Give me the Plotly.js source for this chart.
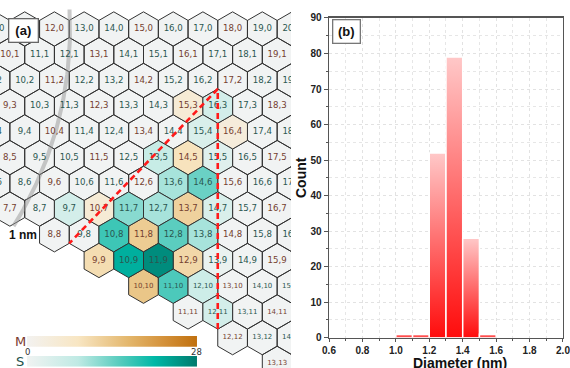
<!DOCTYPE html>
<html><head><meta charset="utf-8">
<script src="https://cdn.plot.ly/plotly-3.0.1.min.js"></script>
<style>html,body{margin:0;padding:0;background:#fff}#chart{width:570px;height:368px}</style>
</head><body><div id="chart"></div>
<script>
// ---------- Panel (a): chirality map data ----------
const rowsM = [0,1,2,3,4,5,6,7,8,9,10,11,12,13];   // chiral index m of each row
const nLimit = 21;                                   // largest n drawn
// metallic (n-m divisible by 3) chiralities and their counts
const metN     = [15,16,14,10,13,11,9,12,10];
const metM     = [3, 4, 5, 7, 7, 8, 9, 9, 10];
const metCount = [5, 4, 9, 5, 12,13,10,11,14];
// semiconducting chiralities and their counts
const semN     = [16,15,13,15,13,14,9,11,12,14,10,12,13,10,11,13,11,12,12];
const semM     = [3, 4, 5, 5, 6, 6, 7, 7, 7, 7, 8, 8, 8, 9, 9, 9, 10,10,11];
const semCount = [5, 4, 7, 3, 10,14,5, 12,10,4, 17,15,10,22,26,1, 16,6, 5];
const countMin = 0, countMax = 28;
// guide lines (red dashed): hex (n,m) and vertex index (0 top,3 bottom,4 lower-left)
const guideN = [12,16,9];
const guideM = [11,3,8];
const guideV = [3,0,4];
// 1 nm diameter contour
const contourDiameter = 1.0;   // nm
const latticeConst = 0.2508;   // nm

// ---------- Panel (b): histogram data ----------
const binStart = [1.0,1.1,1.2,1.3,1.4,1.5];
const binCount = [1,1,52,79,28,1];
const binWidth = 0.1;

// ---------- styles ----------
const scaleM = [[0,'#f3f2f0'],[0.3,'#f8e6c3'],[0.6,'#e3b66b'],[0.8,'#d4923b'],[1,'#c0700e']];
const scaleS = [[0,'#f0f3f2'],[0.3,'#bfeae4'],[0.55,'#55cbbd'],[0.75,'#00b8a6'],[1,'#007a6d']];
const greyFill = '#f1f3f3', edge = '#333333';
const labelColM = '#74402f', labelColS = '#2b5750';

const SQ3 = Math.sqrt(3), R = 1/SQ3;
const VERT = [[0,-R],[0.5,-R/2],[0.5,R/2],[0,R],[-0.5,R/2],[-0.5,-R/2]];
function centre(n,m){ return [n + m/2, m*SQ3/2]; }
function h2r(h){ return [1,3,5].map(i=>parseInt(h.substr(i,2),16)); }
function colourAt(scale, v){
  const t = Math.max(0, Math.min(1, (v-countMin)/(countMax-countMin)));
  for(let k=1;k<scale.length;k++){
    if(t <= scale[k][0]){
      const a = scale[k-1], b = scale[k];
      const f = (t-a[0])/(b[0]-a[0]);
      const ca = h2r(a[1]), cb = h2r(b[1]);
      return 'rgb(' + ca.map((c,i)=>Math.round(c+(cb[i]-c)*f)).join(',') + ')';
    }
  }
  return scale[scale.length-1][1];
}
function hexPath(n,m){
  const [cx,cy] = centre(n,m);
  const xs=[], ys=[];
  VERT.concat([VERT[0]]).forEach(v=>{ xs.push(cx+v[0]); ys.push(cy+v[1]); });
  return [xs,ys];
}

const coloured = {};
metN.forEach((n,k)=>{ coloured[n+','+metM[k]] = colourAt(scaleM, metCount[k]); });
semN.forEach((n,k)=>{ coloured[n+','+semM[k]] = colourAt(scaleS, semCount[k]); });

const traces = [];
const gx=[], gy=[];
const tx=[], ty=[], tt=[], tc=[], ts=[];
rowsM.forEach(m=>{
  for(let n=m; n<=nLimit; n++){
    const key = n+','+m;
    const [cx,cy] = centre(n,m);
    tx.push(cx); ty.push(cy); tt.push(key);
    tc.push(((n-m)%3===0) ? labelColM : labelColS);
    ts.push(key.length>4 ? 7 : 8.6);
    if(coloured[key]) continue;
    const [xs,ys] = hexPath(n,m);
    gx.push(...xs, null); gy.push(...ys, null);
  }
});
traces.push({type:'scatter', mode:'lines', x:gx, y:gy, fill:'toself', fillcolor:greyFill,
  line:{color:edge, width:1}, hoverinfo:'skip', xaxis:'x', yaxis:'y'});
Object.keys(coloured).forEach(key=>{
  const [n,m] = key.split(',').map(Number);
  const [xs,ys] = hexPath(n,m);
  traces.push({type:'scatter', mode:'lines', x:xs, y:ys, fill:'toself', fillcolor:coloured[key],
    line:{color:edge, width:1}, hoverinfo:'skip', xaxis:'x', yaxis:'y'});
});
// 1 nm contour arc
const rad = contourDiameter*Math.PI/latticeConst;
const ax=[], ay=[];
for(let a=-3; a<=32; a+=0.5){ const r=a*Math.PI/180; ax.push(rad*Math.cos(r)); ay.push(rad*Math.sin(r)); }
traces.push({type:'scatter', mode:'lines', x:ax, y:ay, line:{color:'rgba(150,150,150,0.5)', width:4},
  hoverinfo:'skip', xaxis:'x', yaxis:'y'});
// labels
traces.push({type:'scatter', mode:'text', x:tx, y:ty, text:tt,
  textfont:{family:'DejaVu Sans', size:ts, color:tc}, hoverinfo:'skip', xaxis:'x', yaxis:'y'});
// guide lines
const lx=[], ly=[];
guideN.forEach((n,k)=>{ const [cx,cy]=centre(n,guideM[k]); const v=VERT[guideV[k]]; lx.push(cx+v[0]); ly.push(cy+v[1]); });
traces.push({type:'scatter', mode:'lines', x:lx, y:ly, line:{color:'#ff1a1a', width:2.6, dash:'6px,4px'},
  hoverinfo:'skip', xaxis:'x', yaxis:'y'});

// colour bars
traces.push({type:'scatter', mode:'lines', x:[countMin,countMax,countMax,countMin,countMin], y:[0.65,0.65,1,1,0.65],
  fill:'toself', fillgradient:{type:'horizontal', colorscale:scaleM, start:countMin, stop:countMax},
  line:{width:0, color:'rgba(0,0,0,0)'}, hoverinfo:'skip', xaxis:'x3', yaxis:'y3'});
traces.push({type:'scatter', mode:'lines', x:[countMin,countMax,countMax,countMin,countMin], y:[0,0,0.35,0.35,0],
  fill:'toself', fillgradient:{type:'horizontal', colorscale:scaleS, start:countMin, stop:countMax},
  line:{width:0, color:'rgba(0,0,0,0)'}, hoverinfo:'skip', xaxis:'x3', yaxis:'y3'});

// histogram bars
binStart.forEach((s,k)=>{
  const c = binCount[k];
  traces.push({type:'scatter', mode:'lines', x:[s,s,s+binWidth,s+binWidth,s], y:[0,c,c,0,0],
    fill:'toself', fillgradient:{type:'vertical', colorscale:[[0,'#ff0c0c'],[1,'#ffc8c8']]},
    line:{color:'#ffffff', width:1.5}, hoverinfo:'skip', xaxis:'x2', yaxis:'y2'});
});

const tickFont = {family:'Liberation Sans, Arial, sans-serif', size:10, weight:'bold', color:'#222'};
function ann(o){ return Object.assign({xref:'paper', yref:'paper', showarrow:false, xanchor:'center', yanchor:'middle'}, o); }
const layout = {
  width:570, height:368, margin:{l:0,r:0,t:0,b:0}, paper_bgcolor:'#ffffff', plot_bgcolor:'rgba(0,0,0,0)',
  showlegend:false,
  xaxis:{domain:[0,0.5105], range:[10.168,19.966], visible:false, anchor:'y'},
  yaxis:{domain:[0,1], range:[11.414,-0.976], visible:false, anchor:'x'},
  xaxis2:{domain:[0.5772,0.9877], range:[0.6,2.0], anchor:'y2', tick0:0.6, dtick:0.2, tickformat:'.1f',
    showline:true, mirror:true, linecolor:'#555', linewidth:1.5, ticks:'outside', ticklen:3, tickcolor:'#555',
    tickfont:tickFont, ticklabeloverflow:'allow', showgrid:true, gridcolor:'#e2e2e2', griddash:'dot', zeroline:false,
    minor:{dtick:0.1, showgrid:true, gridcolor:'#e6e6e6', griddash:'dot', ticks:'outside', ticklen:2, tickcolor:'#555'}},
  yaxis2:{domain:[0.0823,0.9511], range:[0,90], anchor:'x2', tick0:0, dtick:10,
    showline:true, mirror:true, linecolor:'#555', linewidth:1.5, ticks:'outside', ticklen:4, tickcolor:'#555',
    tickfont:tickFont, ticklabeloverflow:'allow', showgrid:true, gridcolor:'#e2e2e2', griddash:'dot', zeroline:false,
    minor:{dtick:5, showgrid:true, gridcolor:'#e6e6e6', griddash:'dot', ticks:'outside', ticklen:2, tickcolor:'#555'}},
  xaxis3:{domain:[0.0474,0.3456], range:[countMin,countMax], anchor:'y3', visible:false},
  yaxis3:{domain:[0.0035,0.087], range:[0,1], anchor:'x3', visible:false},
  annotations:[
    ann({x:23/570, y:1-30/368, text:'<b>(a)</b>',
     font:{family:'Liberation Sans, Arial', size:13, color:'#111'}, bgcolor:'#fff', bordercolor:'#666',
     borderwidth:1.3, borderpad:2, width:24, height:18}),
    ann({x:346/570, y:1-31.5/368, text:'<b>(b)</b>',
     font:{family:'Liberation Sans, Arial', size:13, color:'#111'}, bgcolor:'#fff', bordercolor:'#777',
     borderwidth:1.3, borderpad:2, width:22, height:18}),
    ann({x:23/570, y:1-235/368, text:'<b>1 nm</b>',
     font:{family:'Liberation Sans, Arial', size:12, color:'#111'}}),
    ann({x:20/570, y:1-341.5/368, text:'M', font:{family:'DejaVu Sans', size:13, color:'#7a3b2e'}}),
    ann({x:20/570, y:1-361/368, text:'S', font:{family:'DejaVu Sans', size:13, color:'#22504a'}}),
    ann({xref:'x3', x:countMin, y:1-351.5/368, text:String(countMin), font:{family:'DejaVu Sans', size:8.5, color:'#333'}}),
    ann({xref:'x3', x:countMax, y:1-351.5/368, text:String(countMax), font:{family:'DejaVu Sans', size:8.5, color:'#333'}}),
    ann({x:301/570, y:1-178/368, text:'<b>Count</b>', textangle:-90,
     font:{family:'Liberation Sans, Arial', size:14, color:'#111'}}),
    ann({x:460/570, y:1-362.5/368, text:'<b>Diameter (nm)</b>',
     font:{family:'Liberation Sans, Arial', size:14, color:'#111'}})
  ]
};
Plotly.newPlot('chart', traces, layout, {displayModeBar:false, staticPlot:true});
</script></body></html>
